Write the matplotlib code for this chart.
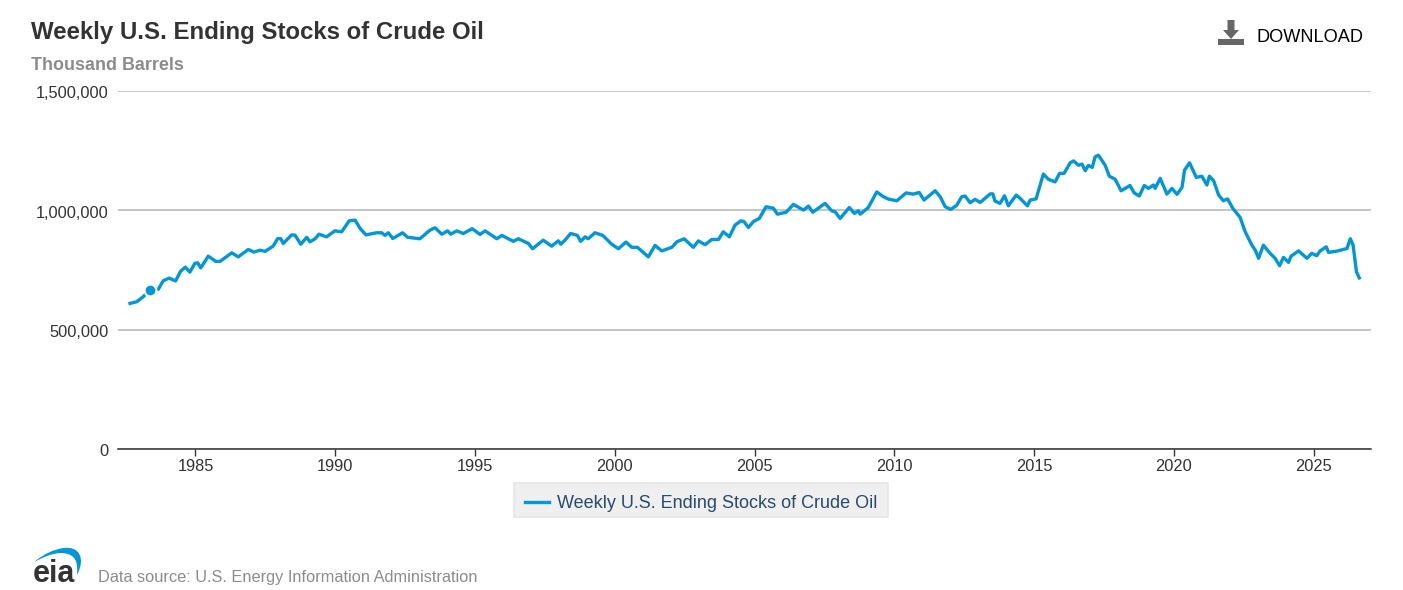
import matplotlib
matplotlib.use('Agg')
import matplotlib.pyplot as plt
from matplotlib.patches import Polygon, Rectangle, PathPatch
from matplotlib.path import Path
from matplotlib.ticker import FuncFormatter
from matplotlib.transforms import ScaledTranslation

plt.rcParams['font.family'] = ['Liberation Sans', 'DejaVu Sans']

# weekly stocks, thousand barrels
years = [1982.66, 1982.90, 1983.13, 1983.37, 1983.67, 1983.85, 1984.06, 1984.29, 1984.47, 1984.64,
         1984.80, 1984.98, 1985.08, 1985.19, 1985.46, 1985.73, 1985.88, 1986.30, 1986.53, 1986.89,
         1987.09, 1987.31, 1987.49, 1987.78, 1987.94, 1988.05, 1988.14, 1988.44, 1988.56, 1988.77,
         1988.98, 1989.10, 1989.28, 1989.42, 1989.69, 1989.99, 1990.23, 1990.50, 1990.71, 1990.89,
         1991.10, 1991.48, 1991.66, 1991.78, 1991.90, 1992.06, 1992.41, 1992.59, 1993.03, 1993.39,
         1993.57, 1993.81, 1994.02, 1994.13, 1994.35, 1994.58, 1994.90, 1995.18, 1995.36, 1995.78,
         1995.96, 1996.37, 1996.55, 1996.91, 1997.06, 1997.44, 1997.74, 1997.98, 1998.07, 1998.22,
         1998.42, 1998.66, 1998.78, 1998.94, 1999.05, 1999.29, 1999.57, 1999.89, 2000.13, 2000.40,
         2000.61, 2000.81, 2001.20, 2001.44, 2001.68, 2002.04, 2002.22, 2002.48, 2002.81, 2002.99,
         2003.23, 2003.47, 2003.71, 2003.88, 2004.10, 2004.30, 2004.51, 2004.62, 2004.78, 2004.96,
         2005.17, 2005.41, 2005.67, 2005.82, 2006.13, 2006.39, 2006.75, 2006.93, 2007.08, 2007.52,
         2007.76, 2007.88, 2008.06, 2008.39, 2008.57, 2008.71, 2008.78, 2009.07, 2009.37, 2009.61,
         2009.79, 2010.09, 2010.42, 2010.68, 2010.89, 2011.06, 2011.46, 2011.64, 2011.82, 2012.02,
         2012.23, 2012.41, 2012.53, 2012.71, 2012.89, 2013.07, 2013.43, 2013.52, 2013.60, 2013.78,
         2013.94, 2014.08, 2014.36, 2014.50, 2014.76, 2014.86, 2015.07, 2015.33, 2015.51, 2015.75,
         2015.91, 2016.07, 2016.29, 2016.41, 2016.59, 2016.71, 2016.83, 2016.94, 2017.08, 2017.18,
         2017.30, 2017.54, 2017.69, 2017.90, 2018.11, 2018.43, 2018.58, 2018.76, 2018.94, 2019.09,
         2019.27, 2019.33, 2019.51, 2019.75, 2019.93, 2020.11, 2020.29, 2020.38, 2020.56, 2020.80,
         2021.00, 2021.18, 2021.27, 2021.42, 2021.60, 2021.77, 2021.92, 2022.11, 2022.37, 2022.55,
         2022.79, 2022.91, 2023.03, 2023.20, 2023.44, 2023.62, 2023.78, 2023.92, 2024.10, 2024.19,
         2024.46, 2024.76, 2024.93, 2025.11, 2025.23, 2025.45, 2025.53, 2025.83, 2026.19, 2026.31,
         2026.41, 2026.53, 2026.63]
stocks = [610, 617, 638, 665, 669, 705, 716, 704, 745, 762,
          741, 778, 780, 759, 808, 786, 786, 822, 805, 836,
          825, 833, 828, 850, 881, 882, 861, 897, 896, 858,
          887, 868, 881, 900, 889, 914, 910, 956, 959, 924,
          897, 906, 906, 895, 906, 882, 906, 887, 881, 917,
          927, 900, 914, 900, 914, 903, 923, 899, 914, 881,
          895, 870, 881, 861, 839, 875, 850, 872, 858, 875,
          903, 895, 870, 889, 881, 906, 895, 858, 839, 867,
          845, 845, 805, 853, 830, 845, 868, 881, 845, 872,
          856, 878, 878, 910, 889, 938, 956, 953, 928, 953,
          966, 1015, 1009, 984, 992, 1025, 1001, 1018, 992, 1029,
          998, 994, 966, 1012, 987, 998, 984, 1012, 1077, 1057,
          1047, 1040, 1073, 1068, 1075, 1043, 1082, 1057, 1015, 1004,
          1021, 1057, 1060, 1032, 1046, 1033, 1069, 1069, 1039, 1029,
          1061, 1019, 1064, 1050, 1019, 1043, 1048, 1152, 1130, 1119,
          1155, 1155, 1199, 1207, 1189, 1194, 1166, 1188, 1180, 1224,
          1231, 1189, 1143, 1130, 1082, 1104, 1073, 1060, 1104, 1092,
          1106, 1092, 1134, 1068, 1092, 1067, 1096, 1168, 1199, 1138,
          1143, 1106, 1143, 1124, 1064, 1040, 1048, 1008, 970, 910,
          854, 833, 799, 854, 820, 799, 768, 803, 782, 808,
          830, 799, 820, 810, 830, 847, 824, 829, 840, 881,
          854, 742, 717]
stocks = [s * 1000 for s in stocks]

marker_year = [1983.37]
marker_stock = [665000]

x_ticks = [1985, 1990, 1995, 2000, 2005, 2010, 2015, 2020, 2025]
y_ticks = [0, 500000, 1000000, 1500000]

series_name = 'Weekly U.S. Ending Stocks of Crude Oil'
W, H = 1403, 590
BLUE = '#0096d7'


def fx(px):
    return px / W


def fy(py):
    return 1 - py / H


fig = plt.figure(figsize=(W / 100, H / 100), dpi=100, facecolor='white')
ax = fig.add_axes([fx(118), fy(449), fx(1371 - 118), (449 - 91) / H])

line, = ax.plot(years, stocks, color=BLUE, lw=2.4, solid_joinstyle='round', label=series_name)
ax.plot(marker_year, marker_stock, 'o', color=BLUE, ms=8.5, mec='white', mew=1.5, zorder=4)

ax.set_xlim(1982.23, 2027.05)
ax.set_ylim(0, 1500000)
ax.set_xticks(x_ticks)
ax.set_yticks(y_ticks)
ax.yaxis.set_major_formatter(FuncFormatter(lambda v, p: f'{int(v):,}'))
ax.grid(axis='y', color='#b5b5b5', lw=1.1)
ax.set_axisbelow(True)
for s in ['top', 'left', 'right']:
    ax.spines[s].set_visible(False)
ax.spines['bottom'].set_color('#333333')
ax.spines['bottom'].set_linewidth(1.1)
ax.tick_params(axis='x', length=5, width=1, color='#333333', pad=2.5, labelsize=11.8, labelcolor='#333333')
ax.tick_params(axis='y', length=0, pad=6.5, labelsize=11.8, labelcolor='#333333')
# y labels sit a little under their gridlines
for t in ax.get_yticklabels():
    t.set_transform(t.get_transform() + ScaledTranslation(0, -1.5 / 100, fig.dpi_scale_trans))

fig.text(fx(31), fy(32), series_name, fontsize=17.3, fontweight='bold', color='#333333', va='center')
fig.text(fx(31), fy(66), 'Thousand Barrels', fontsize=12.9, fontweight='bold', color='#8c8c8c', va='center')

# legend box under the axis
fig.add_artist(Rectangle((fx(514), fy(517)), 374 / W, 34 / H, fc='#efefef', ec='#e6e6e6', lw=1.2,
                         transform=fig.transFigure))
leg = fig.legend(handles=[line], loc='center left', bbox_to_anchor=(fx(525), fy(504)), frameon=False,
                 fontsize=13, labelcolor='#274b6d', handlelength=1.33, handletextpad=0.44,
                 borderpad=0, borderaxespad=0)

# download button
grey = '#666666'
fig.add_artist(Polygon([[fx(1227.5), fy(20)], [fx(1234.5), fy(20)], [fx(1234.5), fy(30)], [fx(1239), fy(30)],
                        [fx(1231), fy(39)], [fx(1223), fy(30)], [fx(1227.5), fy(30)]],
                       closed=True, fc=grey, ec='none', transform=fig.transFigure))
fig.add_artist(Rectangle((fx(1218), fy(45)), 25.5 / W, 6 / H, fc=grey, ec='none', transform=fig.transFigure))
fig.text(fx(1257), fy(37.5), 'DOWNLOAD', fontsize=13.1, color='black', va='center')

# eia logo
arc = Path([(fx(34), fy(562)), (fx(44), fy(554)), (fx(54), fy(549)), (fx(64), fy(548)),
            (fx(79), fy(546)), (fx(86), fy(558)), (fx(77), fy(575)),
            (fx(78), fy(562)), (fx(76), fy(554)), (fx(62), fy(553)),
            (fx(52), fy(553)), (fx(44), fy(557)), (fx(34), fy(562))],
           [Path.MOVETO, Path.CURVE4, Path.CURVE4, Path.CURVE4,
            Path.CURVE4, Path.CURVE4, Path.CURVE4,
            Path.CURVE4, Path.CURVE4, Path.CURVE4,
            Path.CURVE4, Path.CURVE4, Path.CURVE4])
fig.add_artist(PathPatch(arc, fc=BLUE, ec='none', transform=fig.transFigure))
fig.text(fx(33), fy(582), 'eia', fontsize=22, fontweight='bold', color='#333333', va='baseline')
fig.text(fx(98), fy(577.5), 'Data source: U.S. Energy Information Administration', fontsize=11.8,
         color='#8c8c8c', va='center')

fig.savefig('out.png', dpi=100)
